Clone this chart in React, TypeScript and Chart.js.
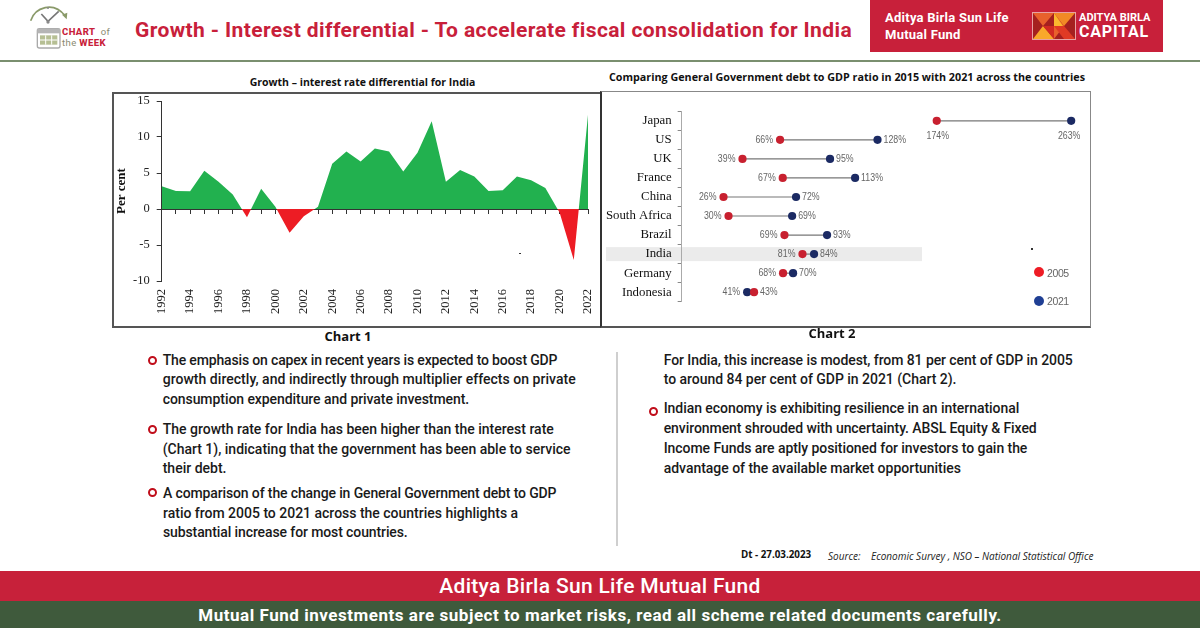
import React, { useEffect, useRef } from 'react'
import { Chart, registerables } from 'chart.js'

Chart.register(...registerables)

// chart 1
const years = ['1992','1993','1994','1995','1996','1997','1998','1999','2000','2001','2002','2003','2004','2005','2006','2007','2008','2009','2010','2011','2012','2013','2014','2015','2016','2017','2018','2019','2020','2021','2022']
const differential = [3.15,2.5,2.45,5.3,3.8,2.0,-1.15,2.8,0.3,-3.3,-1.0,0.3,6.3,8.0,6.6,8.4,8.0,5.2,7.8,12.2,3.8,5.4,4.5,2.5,2.6,4.5,4.0,2.9,-0.5,-7.1,13.1]

// chart 2. the dots in the source are not to scale with their printed labels,
// so the series are read off the dot positions and the labels kept as printed
const countries = ['Japan','US','UK','France','China','South Africa','Brazil','India','Germany','Indonesia']
const debt2005 = [162.8,62.8,38.8,64.5,26.7,29.9,65.6,77.1,64.7,46.2]
const debt2021 = [248.6,125,94.7,110.7,73,70.5,92.8,84.5,71.1,41.8]
const labels2005 = ['174%','66%','39%','67%','26%','30%','69%','81%','68%','43%']
const labels2021 = ['263%','128%','95%','113%','72%','69%','93%','84%','70%','41%']

const SERIF = '"Liberation Serif", serif'
const BODY = 'Roboto, sans-serif'
const CAL = '"Open Sans", sans-serif'
const SANS = '"Liberation Sans", sans-serif'

function GrowthChart() {
  const canvasRef = useRef<HTMLCanvasElement | null>(null)

  useEffect(() => {
    const ctx = canvasRef.current
    if (!ctx) return
    const chart = new Chart(ctx, {
      type: 'line',
      data: {
        labels: years,
        datasets: [{
          data: differential,
          borderWidth: 0,
          pointRadius: 0,
          tension: 0,
          fill: { target: 'origin', above: '#22b14f', below: '#ed1c24' },
        }],
      },
      options: {
        animation: false,
        responsive: false,
        layout: { padding: { top: 9, right: 12 } },
        plugins: { legend: { display: false }, tooltip: { enabled: false } },
        scales: {
          x: {
            type: 'category',
            offset: false,
            border: { display: false },
            grid: { display: false, drawTicks: false },
            ticks: {
              autoSkip: false, maxRotation: 90, minRotation: 90, padding: 8,
              color: '#222', font: { family: SERIF, size: 12.5 },
              callback: (_v: any, i: number) => (i % 2 === 0 ? years[i] : ''),
            },
            afterFit: (s: any) => { s.height = 45; s.paddingLeft = 0; s.paddingRight = 0 },
          },
          zero: {
            type: 'category',
            axis: 'x',
            labels: years,
            offset: false,
            position: { y: 0 },
            border: { display: true, color: '#333', width: 1 },
            grid: { drawOnChartArea: false, tickLength: 4, color: '#333' },
            ticks: { display: false, autoSkip: false },
          },
          y: {
            min: -10,
            max: 15,
            border: { color: '#333', width: 1 },
            grid: { drawOnChartArea: false, tickLength: 5, color: '#333' },
            ticks: { stepSize: 5, padding: 7, color: '#222', font: { family: SERIF, size: 12.5 } },
            title: {
              display: true, text: 'Per cent', color: '#111', padding: { top: 2, bottom: 0 },
              font: { family: SERIF, size: 13, weight: 'bold' },
            },
            afterFit: (s: any) => { s.width = 49.7; s.paddingTop = 0; s.paddingBottom = 0 },
          },
        },
      } as any,
    })
    return () => chart.destroy()
  }, [])

  return <canvas ref={canvasRef} width={488} height={234} style={{ position: 'absolute', left: 112, top: 92 }} />
}

// value labels are squeezed to 80% width, the source image is stretched the same way
function narrowText(ctx: any, s: string, x: number, y: number) {
  ctx.fillText(s, x, y, ctx.measureText(s).width * 0.8)
}

const dumbbellPlugin = {
  id: 'dumbbell',
  beforeDraw(chart: any) {
    const { ctx, scales } = chart
    const yc = scales.y.getPixelForValue(countries.indexOf('India'))
    ctx.save()
    ctx.fillStyle = '#ebebeb'
    ctx.fillRect(5, yc - 7, scales.x.getPixelForValue(153.4) - 5, 14)
    ctx.restore()
  },
  beforeDatasetsDraw(chart: any) {
    const { ctx, scales } = chart
    ctx.save()
    ctx.strokeStyle = '#777'
    ctx.lineWidth = 1.2
    countries.forEach((_c, i) => {
      const y = scales.y.getPixelForValue(i)
      ctx.beginPath()
      ctx.moveTo(scales.x.getPixelForValue(debt2005[i]), y)
      ctx.lineTo(scales.x.getPixelForValue(debt2021[i]), y)
      ctx.stroke()
    })
    ctx.restore()
  },
  afterDatasetsDraw(chart: any) {
    const { ctx, scales } = chart
    ctx.save()
    ctx.fillStyle = '#666'
    ctx.font = '11px ' + SANS
    ctx.textBaseline = 'middle'
    countries.forEach((c, i) => {
      const y = scales.y.getPixelForValue(i)
      const a = scales.x.getPixelForValue(debt2005[i])
      const b = scales.x.getPixelForValue(debt2021[i])
      if (c === 'Japan') {
        ctx.textAlign = 'center'
        narrowText(ctx, labels2005[i], a + 1, y + 15)
        narrowText(ctx, labels2021[i], b - 2, y + 15)
        return
      }
      const redLeft = a < b
      ctx.textAlign = 'right'
      narrowText(ctx, redLeft ? labels2005[i] : labels2021[i], Math.min(a, b) - 7, y)
      ctx.textAlign = 'left'
      narrowText(ctx, redLeft ? labels2021[i] : labels2005[i], Math.max(a, b) + 6, y)
    })
    ctx.restore()
  },
}

function DebtChart() {
  const canvasRef = useRef<HTMLCanvasElement | null>(null)

  useEffect(() => {
    const ctx = canvasRef.current
    if (!ctx) return
    const chart = new Chart(ctx, {
      type: 'line',
      data: {
        labels: countries,
        datasets: [
          { label: '2005', data: debt2005, showLine: false, pointRadius: 4.1, pointBackgroundColor: '#c8202f', pointBorderWidth: 0 },
          { label: '2021', data: debt2021, showLine: false, pointRadius: 4.1, pointBackgroundColor: '#1b2a63', pointBorderWidth: 0 },
        ],
      },
      options: {
        animation: false,
        responsive: false,
        indexAxis: 'y',
        layout: { padding: { top: 20.3, right: 2, bottom: 24.3 } },
        plugins: { legend: { display: false }, tooltip: { enabled: false } },
        scales: {
          x: { type: 'linear', min: 0, max: 258, display: false },
          y: {
            type: 'category',
            offset: true,
            border: { color: '#aaa', width: 1 },
            grid: { drawOnChartArea: false, offset: true, tickLength: 4, color: '#888' },
            ticks: { autoSkip: false, padding: 6, color: '#111', font: { family: SERIF, size: 12.8 } },
            afterFit: (s: any) => { s.width = 80.67 },
          },
        },
      } as any,
      plugins: [dumbbellPlugin],
    })
    return () => chart.destroy()
  }, [])

  return <canvas ref={canvasRef} width={489} height={235} style={{ position: 'absolute', left: 601, top: 91 }} />
}

function T({ x, y, size, weight = 400, color = '#1a1a1a', spacing = 0, center = false, italic = false, font = BODY, children }: any) {
  return (
    <div style={{
      position: 'absolute', left: x, top: y, fontSize: size, fontWeight: weight, color, letterSpacing: spacing,
      fontFamily: font, fontStyle: italic ? 'italic' : 'normal', lineHeight: 1, whiteSpace: 'nowrap',
      transform: center ? 'translate(-50%,-50%)' : 'translateY(-50%)',
    }}>{children}</div>
  )
}

function Ring({ x, y }: any) {
  return <div style={{ position: 'absolute', left: x - 4.5, top: y - 4.5, width: 5, height: 5, border: '2px solid #c00d1a', borderRadius: '50%' }} />
}

function Dot({ x, y, r, c }: any) {
  return <div style={{ position: 'absolute', left: x - r, top: y - r, width: 2 * r, height: 2 * r, background: c, borderRadius: '50%' }} />
}

function Box({ x, y, w, h, c }: any) {
  return <div style={{ position: 'absolute', left: x, top: y, width: w, height: h, background: c }} />
}

const BODY_LINES: [number, number, number, string][] = [
  [162.7, 360, -0.16, 'The emphasis on capex in recent years is expected to boost GDP'],
  [162.7, 379.3, 0.03, 'growth directly, and indirectly through multiplier effects on private'],
  [162.7, 399, -0.07, 'consumption expenditure and private investment.'],
  [162.7, 429, 0, 'The growth rate for India has been higher than the interest rate'],
  [162.7, 449, -0.01, '(Chart 1), indicating that the government has been able to service'],
  [162.7, 468.3, 0, 'their debt.'],
  [163, 493, -0.13, 'A comparison of the change in General Government debt to GDP'],
  [163, 512.7, -0.01, 'ratio from 2005 to 2021 across the countries highlights a'],
  [163, 532.3, -0.11, 'substantial increase for most countries.'],
  [663.7, 360, -0.08, 'For India, this increase is modest, from 81 per cent of GDP in 2005'],
  [663.7, 379, -0.03, 'to around 84 per cent of GDP in 2021 (Chart 2).'],
  [663.7, 407.7, -0.05, 'Indian economy is exhibiting resilience in an international'],
  [663.7, 428, -0.07, 'environment shrouded with uncertainty. ABSL Equity & Fixed'],
  [663.7, 448, -0.06, 'Income Funds are aptly positioned for investors to gain the'],
  [663.7, 468, -0.03, 'advantage of the available market opportunities'],
]

function ChartOfWeekIcon() {
  return (
    <svg width={120} height={55} viewBox="0 0 360 165" style={{ position: 'absolute', left: 20, top: 0 }}>
      <path d="M32 62 C45 22 100 2 136 48" fill="none" stroke="#8a9a6a" strokeWidth={5} />
      <path d="M126 44 L142 38 L140 58 Z" fill="#8a9a6a" />
      <path d="M64 42 L84 64 L116 34" fill="none" stroke="#777" strokeWidth={5} />
      <circle cx={84} cy={66} r={5} fill="#888" />
      <circle cx={84} cy={24} r={3} fill="#888" />
      <rect x={52} y={86} width={68} height={58} rx={6} fill="#fff" stroke="#aaa" strokeWidth={4} />
      <rect x={52} y={86} width={68} height={14} fill="#b5b5b5" />
      <rect x={60} y={106} width={52} height={28} fill="#b6bf94" />
      <path d="M77 106 V134 M95 106 V134 M60 120 H112" stroke="#fff" strokeWidth={3} />
    </svg>
  )
}

function CapitalLogo() {
  return (
    <svg width={42} height={26} viewBox="0 0 42 26" style={{ position: 'absolute', left: 1032, top: 12, border: '0.5px solid #e7a3a3' }}>
      <rect width={42} height={26} fill="#a5201f" />
      <path d="M0 0 H21 L10 13 Z M21 0 L31 13 L21 26 Z" fill="#e8612c" />
      <path d="M21 0 H42 L31 13 Z" fill="#f28a25" />
      <path d="M21 0 L32 16 L21 13 Z" fill="#fbb92e" />
      <path d="M0 26 L10 13 L21 26 Z" fill="#f9a82a" />
      <path d="M21 13 L31 26 H42 L31 13 Z" fill="#e03a24" />
      <path d="M10 13 L21 26 V13 Z" fill="#d22a22" />
    </svg>
  )
}

export default function App() {
  return (
    <div style={{ position: 'absolute', left: 0, top: 0, width: 1200, height: 628, overflow: 'hidden', background: '#fff' }}>
      <ChartOfWeekIcon />
      <T x={62} y={32} size={9.5} weight={800} color="#c8203a" spacing={0.4}>CHART <span style={{ fontWeight: 400, color: '#8a8a70', marginLeft: 3 }}>of</span></T>
      <T x={62} y={43} size={9.5} weight={400} color="#8a8a70" spacing={0.4}>the <span style={{ fontWeight: 800, color: '#c8203a' }}>WEEK</span></T>
      <T x={135} y={30} size={21} weight={700} color="#c8203a" spacing={0.39}>Growth - Interest differential - To accelerate fiscal consolidation for India</T>

      <Box x={870} y={0} w={293} h={52} c="#c8203a" />
      <T x={885} y={17} size={13} weight={700} color="#fff" spacing={0.25}>Aditya Birla Sun Life</T>
      <T x={885} y={34} size={13} weight={700} color="#fff" spacing={0.25}>Mutual Fund</T>
      <CapitalLogo />
      <T x={1079} y={17} size={11} weight={700} color="#fff">ADITYA BIRLA</T>
      <T x={1079} y={32} size={16} weight={700} color="#fff" spacing={0.8}>CAPITAL</T>
      <Box x={0} y={60} w={1200} h={1.5} c="#7a8f6f" />

      <T x={362.5} y={82} size={10.5} weight={700} color="#111" center font={CAL}>Growth – interest rate differential for India</T>
      <T x={847} y={77} size={10.75} weight={700} color="#111" center font={CAL}>Comparing General Government debt to GDP ratio in 2015 with 2021 across the countries</T>

      <div style={{ position: 'absolute', left: 112, top: 92, width: 486, height: 232, border: '2px solid #555' }} />
      <GrowthChart />
      <Box x={519} y={252.5} w={1.5} h={1.5} c="#333" />

      <div style={{ position: 'absolute', left: 600, top: 91, width: 487.5, height: 233.5, borderLeft: '2px solid #333', borderTop: '1px solid #888', borderRight: '1px solid #888', borderBottom: '2px solid #555' }} />
      <DebtChart />
      <Box x={1031} y={248} w={1.5} h={1.5} c="#333" />
      <Dot x={1039} y={272} r={5} c="#ee1c25" />
      <T x={1047} y={272.5} size={10.5} color="#666" spacing={-0.4} font={SANS}>2005</T>
      <Dot x={1039} y={301} r={5} c="#1f3f94" />
      <T x={1047} y={301} size={10.5} color="#666" spacing={-0.4} font={SANS}>2021</T>

      <T x={348} y={336} size={13} weight={700} color="#111" center font={CAL}>Chart 1</T>
      <T x={832} y={333} size={13} weight={700} color="#111" center font={CAL}>Chart 2</T>

      <Ring x={152.7} y={360} />
      <Ring x={152.7} y={429} />
      <Ring x={152.7} y={492.7} />
      <Ring x={653.3} y={411.3} />
      {BODY_LINES.map(([x, y, sp, s]) => (
        <T key={s} x={x} y={y} size={14} weight={500} spacing={sp}>{s}</T>
      ))}
      <Box x={616} y={352} w={1.5} h={194} c="#cfcfcf" />

      <T x={741} y={555} size={9.8} weight={700} color="#111" font={CAL}>Dt -  27.03.2023</T>
      <T x={828} y={556} size={10} italic color="#222" font={CAL}>Source:</T>
      <T x={871} y={556} size={10} italic color="#222" font={CAL}>Economic Survey , NSO – National Statistical Office</T>

      <Box x={0} y={571} w={1200} h={30} c="#c7213a" />
      <Box x={0} y={601} w={1200} h={27} c="#3f5a3c" />
      <T x={600} y={586} size={21} weight={500} color="#fff" center spacing={0.3}>Aditya Birla Sun Life Mutual Fund</T>
      <T x={600} y={615} size={17} weight={700} color="#fff" center spacing={0.53}>Mutual Fund investments are subject to market risks, read all scheme related documents carefully.</T>
    </div>
  )
}
